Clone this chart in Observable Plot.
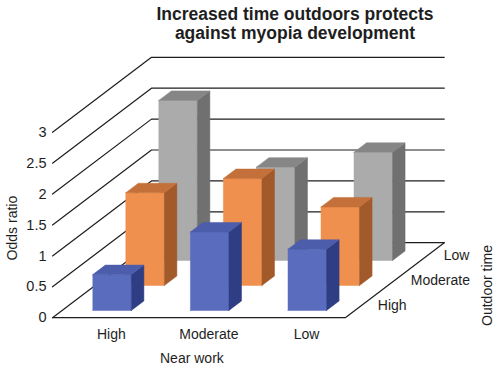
<!DOCTYPE html>
<html><head><meta charset="utf-8">
<script src="https://cdn.jsdelivr.net/npm/d3@7"></script>
<script src="https://cdn.jsdelivr.net/npm/@observablehq/plot@0.6"></script>
<style>
body{margin:0;background:#fff;font-family:"Liberation Sans",Arial,Helvetica,sans-serif;}
#title{box-sizing:border-box;height:46px;padding:4.5px 0 0 90px;text-align:center;font-weight:bold;font-size:17.5px;line-height:19.5px;color:#1e1e1e;}
#chart svg{display:block;}
</style></head><body>
<div id="title">Increased time outdoors protects<br>against myopia development</div>
<div id="chart"></div>
<script>
// ---- data ----
const nearWork = ["High", "Moderate", "Low"];          // x categories (front axis)
const outdoorTime = ["High", "Moderate", "Low"];       // depth series (front to back)
const oddsHighOutdoor = [0.58, 1.27, 0.99];            // blue
const oddsModerateOutdoor = [1.50, 1.73, 1.27];        // orange
const oddsLowOutdoor = [2.59, 1.51, 1.75];             // gray
const yTicks = [0, 0.5, 1, 1.5, 2, 2.5, 3];
const yTickLabels = ["0", "0.5", "1", "1.5", "2", "2.5", "3"];

const series = [oddsHighOutdoor, oddsModerateOutdoor, oddsLowOutdoor];
const palette = [
  {front: "#5a6cbe", top: "#4b5dab", side: "#2f3d85"},
  {front: "#f0904e", top: "#c4703a", side: "#a25a2b"},
  {front: "#ababab", top: "#868686", side: "#707070"}
];

// ---- oblique 3D projection into the plot's data space ----
const KX = 0.338, KY = 0.4045;
const proj = (c, s, v) => ({X: c + s * KX, Y: v + s * KY});
const NC = nearWork.length, NS = outdoorTime.length;

// grid lines (left wall diagonals + back wall horizontals) and floor
const grid = [];
yTicks.forEach(v => {
  [[0, 0], [0, NS], [NC, NS]].forEach(([c, s]) => grid.push({id: "g" + v, ...proj(c, s, v)}));
});
[[0, 0], [NC, 0], [NC, NS]].forEach(([c, s]) => grid.push({id: "floor", ...proj(c, s, 0)}));

// bars as face polygons, back row first
const faces = [];
const BW = 0.395, BD = 0.38, C0 = 0.315, S0 = 0.29;
for (let r = NS - 1; r >= 0; r--) {
  series[r].forEach((v, i) => {
    const c0 = i + C0, c1 = c0 + BW, s0 = r + S0, s1 = s0 + BD;
    const polys = {
      front: [[c0, s0, 0], [c1, s0, 0], [c1, s0, v], [c0, s0, v]],
      side: [[c1, s0, 0], [c1, s1, 0], [c1, s1, v], [c1, s0, v]],
      top: [[c0, s0, v], [c1, s0, v], [c1, s1, v], [c0, s1, v]]
    };
    for (const f of ["front", "side", "top"]) {
      const pts = polys[f];
      [...pts, pts[0]].forEach(p => faces.push({id: `${r}-${i}-${f}`, color: palette[r][f], ...proj(...p)}));
    }
  });
}

const tickData = yTicks.map((v, k) => ({label: yTickLabels[k], ...proj(0, 0, v)}));
const catData = nearWork.map((n, i) => ({label: n, ...proj(i + 0.5, 0, 0)}));
const depthData = outdoorTime.map((n, r) => ({label: n, ...proj(NC, r + 0.5, 0)}));

const font = '"Liberation Sans", Arial, Helvetica, sans-serif';
const ink = "#1e1e1e";

const chart = Plot.plot({
  width: 500,
  height: 323,
  margin: 0,
  x: {domain: [0, 3], range: [52, 344.8], axis: null},
  y: {domain: [0, 3], range: [271.2, 85.8], axis: null},
  color: {type: "identity"},
  style: {background: "#fff", fontFamily: font, color: ink, overflow: "visible"},
  marks: [
    Plot.line(grid, {x: "X", y: "Y", z: "id", stroke: ink, strokeWidth: 1.2}),
    Plot.line(faces, {x: "X", y: "Y", z: "id", fill: "color", stroke: "color", strokeWidth: 0.5, strokeLinejoin: "miter"}),
    Plot.text(tickData, {x: "X", y: "Y", text: "label", textAnchor: "end", dx: -6, fontSize: 14.5, fill: ink}),
    Plot.text(catData, {x: "X", y: "Y", text: "label", dx: 10, dy: 17, fontSize: 14, fill: ink}),
    Plot.text(depthData, {x: "X", y: "Y", text: "label", textAnchor: "start", dx: 16, fontSize: 14, fill: ink}),
    Plot.text([{label: "Near work", ...proj(1.5, 0, 0)}], {x: "X", y: "Y", text: "label", dx: -7, dy: 41, fontSize: 14, fill: ink}),
    Plot.text([{label: "Odds ratio", ...proj(0, 0, 1.45)}], {x: "X", y: "Y", text: "label", dx: -39.5, rotate: -90, fontSize: 14, fill: ink}),
    Plot.text([{label: "Outdoor time", ...proj(NC, 1.5, 0)}], {x: "X", y: "Y", text: "label", dx: 92.7, dy: 5.3, rotate: -90, fontSize: 14, fill: ink})
  ]
});
document.getElementById("chart").appendChild(chart);
</script>
</body></html>
